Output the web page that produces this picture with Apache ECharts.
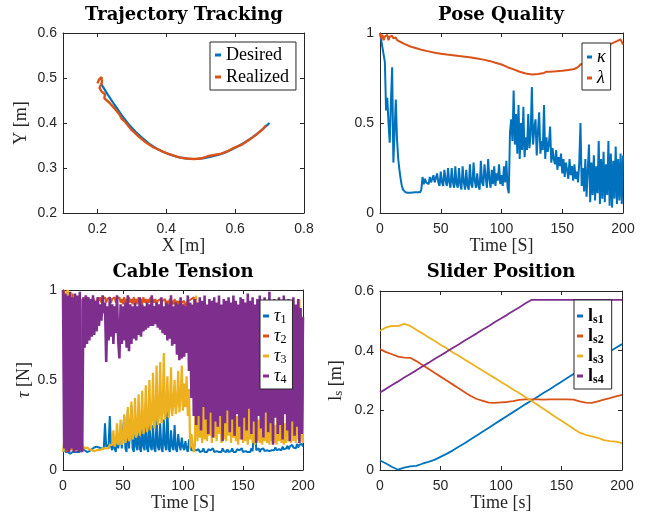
<!DOCTYPE html>
<html>
<head>
<meta charset="utf-8">
<title>Tracking results</title>
<script src="https://cdn.jsdelivr.net/npm/echarts@6.0.0/dist/echarts.min.js"></script>
<style>
  html, body { margin: 0; padding: 0; background: #fff; }
  #main { width: 646px; height: 517px; }
</style>
</head>
<body>
<div id="main"></div>
<script>
// ---------- data ----------
// trajectory tracking, x/y in metres
const desiredX = [0.21, 0.23, 0.25, 0.27, 0.29, 0.31, 0.33, 0.35, 0.37, 0.39, 0.41, 0.43, 0.45,
  0.47, 0.49, 0.51, 0.53, 0.55, 0.57, 0.59, 0.61, 0.63, 0.65, 0.67, 0.69, 0.70];
const desiredY = [0.488, 0.463, 0.440, 0.418, 0.398, 0.381, 0.367, 0.354, 0.344, 0.336, 0.330, 0.325, 0.322,
  0.320, 0.320, 0.322, 0.325, 0.329, 0.334, 0.341, 0.349, 0.358, 0.368, 0.380, 0.393, 0.400];
const realizedX = [0.200, 0.205, 0.212, 0.213, 0.206, 0.212, 0.222, 0.220, 0.235, 0.250, 0.265, 0.270, 0.280,
  0.300, 0.320, 0.340, 0.360, 0.380, 0.400, 0.420, 0.440, 0.460, 0.480, 0.500, 0.520, 0.540, 0.560,
  0.580, 0.600, 0.620, 0.640, 0.660, 0.680, 0.690];
const realizedY = [0.488, 0.497, 0.502, 0.490, 0.478, 0.470, 0.464, 0.455, 0.445, 0.432, 0.418, 0.410, 0.403,
  0.384, 0.370, 0.357, 0.347, 0.340, 0.333, 0.328, 0.323, 0.321, 0.320, 0.321, 0.326, 0.329, 0.332,
  0.338, 0.346, 0.352, 0.362, 0.373, 0.386, 0.395];

// pose quality, kappa sampled every second from 0 to 200 s
const kappa = [
  1.00, 0.96, 0.92, 0.88, 0.84, 0.57, 0.64, 0.50, 0.39, 0.62,
  0.81, 0.28, 0.45, 0.63, 0.41, 0.30, 0.24, 0.19, 0.15, 0.13,
  0.12, 0.115, 0.112, 0.112, 0.113, 0.113, 0.114, 0.114, 0.115, 0.115,
  0.115, 0.115, 0.116, 0.115, 0.13, 0.20, 0.16, 0.19, 0.17, 0.18,
  0.16, 0.20, 0.17, 0.16, 0.21, 0.17, 0.16, 0.22, 0.17, 0.15,
  0.23, 0.17, 0.15, 0.24, 0.18, 0.15, 0.25, 0.17, 0.14, 0.25,
  0.17, 0.14, 0.26, 0.16, 0.14, 0.25, 0.16, 0.13, 0.26, 0.17,
  0.13, 0.24, 0.15, 0.13, 0.27, 0.16, 0.14, 0.28, 0.18, 0.14,
  0.22, 0.15, 0.13, 0.29, 0.17, 0.15, 0.27, 0.20, 0.14, 0.30,
  0.19, 0.14, 0.24, 0.16, 0.26, 0.15, 0.22, 0.18, 0.27, 0.16,
  0.21, 0.15, 0.26, 0.17, 0.29, 0.14, 0.11, 0.45, 0.52, 0.40,
  0.68, 0.38, 0.55, 0.33, 0.60, 0.30, 0.50, 0.35, 0.59, 0.31,
  0.42, 0.35, 0.55, 0.36, 0.44, 0.70, 0.38, 0.47, 0.52, 0.32,
  0.45, 0.56, 0.33, 0.40, 0.35, 0.60, 0.30, 0.42, 0.34, 0.38,
  0.48, 0.28, 0.36, 0.30, 0.27, 0.35, 0.24, 0.31, 0.26, 0.33,
  0.22, 0.30, 0.20, 0.28, 0.24, 0.19, 0.30, 0.21, 0.26, 0.18,
  0.27, 0.19, 0.23, 0.17, 0.28, 0.50, 0.15, 0.25, 0.12, 0.30,
  0.09, 0.24, 0.38, 0.06, 0.28, 0.10, 0.32, 0.07, 0.26, 0.11,
  0.40, 0.05, 0.30, 0.08, 0.34, 0.06, 0.27, 0.10, 0.40, 0.04,
  0.33, 0.03, 0.29, 0.08, 0.37, 0.05, 0.30, 0.07, 0.33, 0.05,
  0.32
];
const lambdaTime = [0, 1, 2, 3, 4, 5, 6, 7, 8, 9, 10, 11, 12, 13, 14, 15, 17, 20, 25, 30, 35, 40, 45, 50,
  55, 60, 65, 70, 75, 80, 85, 90, 95, 100, 105, 110, 115, 120, 125, 130, 135, 137, 140, 145, 150, 155,
  160, 163, 165, 170, 175, 180, 185, 190, 195, 198, 200];
const lambdaVal = [1.0, 0.97, 0.99, 0.96, 0.98, 0.97, 0.99, 0.96, 0.98, 0.97, 0.985, 0.97, 0.96, 0.975,
  0.96, 0.955, 0.95, 0.94, 0.925, 0.915, 0.905, 0.898, 0.89, 0.885, 0.88, 0.876, 0.872, 0.868, 0.864,
  0.858, 0.852, 0.845, 0.835, 0.825, 0.81, 0.798, 0.785, 0.775, 0.77, 0.772, 0.778, 0.785, 0.785, 0.787,
  0.79, 0.795, 0.80, 0.81, 0.825, 0.84, 0.86, 0.885, 0.91, 0.94, 0.955, 0.965, 0.935];

// cable tensions, sampled every second from 0 to 200 s
const tau1 = [
  1.0, 0.95, 0.10, 0.09, 0.10, 0.10, 0.09, 0.10, 0.10, 0.10,
  0.10, 0.10, 0.10, 0.11, 0.10, 0.45, 0.12, 0.11, 0.11, 0.105,
  0.10, 0.10, 0.105, 0.11, 0.115, 0.12, 0.125, 0.13, 0.13, 0.13,
  0.125, 0.12, 0.12, 0.115, 0.12, 0.26, 0.13, 0.12, 0.14, 0.30,
  0.13, 0.11, 0.15, 0.12, 0.10, 0.20, 0.12, 0.11, 0.22, 0.12,
  0.11, 0.30, 0.12, 0.10, 0.33, 0.12, 0.11, 0.36, 0.12, 0.10,
  0.28, 0.13, 0.11, 0.30, 0.12, 0.10, 0.27, 0.13, 0.11, 0.32,
  0.12, 0.10, 0.29, 0.13, 0.11, 0.25, 0.12, 0.10, 0.30, 0.13,
  0.11, 0.26, 0.12, 0.10, 0.28, 0.14, 0.11, 0.36, 0.12, 0.10,
  0.22, 0.13, 0.11, 0.25, 0.12, 0.10, 0.20, 0.14, 0.11, 0.18,
  0.13, 0.11, 0.16, 0.12, 0.10, 0.17, 0.14, 0.11, 0.10, 0.11,
  0.10, 0.11, 0.10, 0.115, 0.10, 0.11, 0.105, 0.12, 0.10, 0.11,
  0.10, 0.115, 0.105, 0.11, 0.10, 0.12, 0.10, 0.11, 0.105, 0.115,
  0.10, 0.11, 0.10, 0.12, 0.105, 0.11, 0.10, 0.115, 0.10, 0.11,
  0.105, 0.12, 0.10, 0.11, 0.10, 0.115, 0.105, 0.11, 0.10, 0.12,
  0.10, 0.11, 0.105, 0.115, 0.10, 0.11, 0.10, 0.12, 0.105, 0.11,
  0.30, 0.11, 0.105, 0.12, 0.10, 0.115, 0.11, 0.12, 0.105, 0.115,
  0.11, 0.12, 0.105, 0.115, 0.11, 0.12, 0.11, 0.125, 0.11, 0.12,
  0.115, 0.125, 0.11, 0.13, 0.115, 0.125, 0.12, 0.135, 0.115, 0.13,
  0.12, 0.14, 0.125, 0.135, 0.12, 0.145, 0.125, 0.14, 0.13, 0.145,
  0.13
];
const tau2 = [
  0.98, 1.0, 0.12, 0.10, 0.95, 0.10, 0.15, 0.11, 0.98, 0.12,
  0.10, 0.12, 0.11, 0.13, 0.11, 0.10, 0.95, 0.93, 0.96, 0.94,
  0.95, 0.96, 0.94, 0.95, 0.93, 0.96, 0.94, 0.95, 0.93, 0.96,
  0.94, 0.96, 0.93, 0.95, 0.94, 0.96, 0.93, 0.95, 0.94, 0.96,
  0.93, 0.95, 0.94, 0.96, 0.93, 0.95, 0.94, 0.96, 0.93, 0.95,
  0.92, 0.96, 0.93, 0.95, 0.92, 0.96, 0.93, 0.95, 0.92, 0.96,
  0.93, 0.95, 0.92, 0.96, 0.93, 0.95, 0.92, 0.96, 0.93, 0.95,
  0.92, 0.95, 0.93, 0.96, 0.92, 0.95, 0.93, 0.95, 0.92, 0.94,
  0.93, 0.95, 0.92, 0.94, 0.93, 0.95, 0.91, 0.94, 0.92, 0.95,
  0.91, 0.94, 0.92, 0.95, 0.91, 0.94, 0.92, 0.94, 0.91, 0.93,
  0.92, 0.94, 0.85, 0.93, 0.92, 0.94, 0.93, 0.95, 0.94, 0.96,
  0.60, 0.57, 0.62, 0.58, 0.61, 0.56, 0.60, 0.63, 0.58, 0.61,
  0.57, 0.62, 0.59, 0.60, 0.56, 0.61, 0.58, 0.63, 0.57, 0.60,
  0.62, 0.58, 0.61, 0.57, 0.60, 0.63, 0.58, 0.61, 0.56, 0.60,
  0.59, 0.62, 0.57, 0.61, 0.58, 0.60, 0.63, 0.57, 0.61, 0.59,
  0.60, 0.56, 0.62, 0.58, 0.61, 0.57, 0.60, 0.63, 0.59, 0.61,
  0.58, 0.62, 0.57, 0.60, 0.61, 0.56, 0.60, 0.62, 0.58, 0.61,
  0.57, 0.60, 0.63, 0.58, 0.61, 0.59, 0.60, 0.57, 0.62, 0.58,
  0.61, 0.57, 0.60, 0.62, 0.58, 0.61, 0.56, 0.60, 0.63, 0.59,
  0.60, 0.58, 0.62, 0.57, 0.61, 0.59, 0.60, 0.62, 0.58, 0.61,
  0.60
];
const tau3 = [
  0.10, 0.11, 0.20, 0.98, 1.00, 0.97, 0.12, 0.25, 0.11, 0.13,
  0.12, 0.11, 0.20, 0.12, 0.13, 0.16, 0.14, 0.13, 0.12, 0.12,
  0.125, 0.12, 0.115, 0.11, 0.11, 0.105, 0.105, 0.105, 0.11, 0.11,
  0.11, 0.11, 0.115, 0.115, 0.12, 0.12, 0.12, 0.13, 0.12, 0.14,
  0.13, 0.14, 0.22, 0.13, 0.15, 0.26, 0.14, 0.16, 0.28, 0.14,
  0.17, 0.31, 0.15, 0.18, 0.35, 0.16, 0.19, 0.38, 0.17, 0.20,
  0.40, 0.18, 0.21, 0.42, 0.19, 0.23, 0.44, 0.20, 0.24, 0.47,
  0.21, 0.25, 0.50, 0.22, 0.27, 0.54, 0.23, 0.28, 0.58, 0.25,
  0.30, 0.60, 0.26, 0.32, 0.65, 0.28, 0.33, 0.52, 0.29, 0.35,
  0.57, 0.30, 0.36, 0.50, 0.31, 0.38, 0.55, 0.32, 0.40, 0.58,
  0.33, 0.48, 0.35, 0.52, 0.30, 0.45, 0.12, 0.20, 0.15, 0.10,
  0.14, 0.97, 0.16, 0.42, 0.18, 0.38, 0.15, 0.55, 0.17, 0.40,
  0.16, 0.36, 0.19, 0.44, 0.15, 0.34, 0.18, 0.41, 0.16, 0.37,
  0.20, 0.43, 0.15, 0.33, 0.17, 0.46, 0.16, 0.35, 0.19, 0.40,
  0.15, 0.32, 0.18, 0.38, 0.16, 0.30, 0.14, 0.42, 0.17, 0.33,
  0.15, 0.36, 0.16, 0.29, 0.14, 0.35, 0.17, 0.31, 0.15, 0.55,
  0.14, 0.30, 0.16, 0.28, 0.15, 0.45, 0.14, 0.27, 0.16, 0.33,
  0.15, 0.26, 0.14, 0.60, 0.16, 0.30, 0.15, 0.25, 0.14, 0.35,
  0.16, 0.28, 0.15, 0.40, 0.14, 0.26, 0.15, 0.50, 0.16, 0.88,
  0.15, 0.92, 0.16, 0.70, 0.15, 0.85, 0.17, 0.95, 0.16, 0.80,
  0.15
];
const tau4 = [
  1.0, 0.12, 0.98, 0.11, 0.97, 0.10, 0.99, 0.12, 0.96, 0.10,
  0.98, 0.11, 0.97, 0.10, 0.99, 0.12, 0.10, 0.96, 0.68, 0.97,
  0.70, 0.96, 0.72, 0.95, 0.74, 0.97, 0.75, 0.94, 0.77, 0.96,
  0.80, 0.92, 0.83, 0.97, 0.87, 0.93, 0.60, 0.91, 0.72, 0.96,
  0.74, 0.92, 0.70, 0.91, 0.76, 0.97, 0.72, 0.62, 0.92, 0.70,
  0.91, 0.72, 0.93, 0.68, 0.97, 0.66, 0.92, 0.70, 0.91, 0.73,
  0.93, 0.72, 0.91, 0.75, 0.96, 0.74, 0.92, 0.77, 0.91, 0.78,
  0.93, 0.79, 0.92, 0.80, 0.97, 0.80, 0.91, 0.81, 0.93, 0.79,
  0.92, 0.78, 0.96, 0.76, 0.91, 0.75, 0.93, 0.72, 0.92, 0.73,
  0.97, 0.69, 0.91, 0.70, 0.93, 0.64, 0.92, 0.61, 0.96, 0.62,
  0.92, 0.63, 0.91, 0.65, 0.97, 0.55, 0.93, 0.40, 0.92, 0.30,
  0.95, 0.25, 0.93, 0.30, 0.96, 0.22, 0.94, 0.35, 0.97, 0.28,
  0.92, 0.20, 0.95, 0.32, 0.94, 0.18, 0.96, 0.27, 0.93, 0.24,
  0.97, 0.30, 0.92, 0.16, 0.95, 0.26, 0.94, 0.33, 0.96, 0.21,
  0.93, 0.28, 0.97, 0.19, 0.94, 0.31, 0.92, 0.24, 0.96, 0.17,
  0.95, 0.29, 0.93, 0.22, 0.98, 0.34, 0.94, 0.20, 0.96, 0.27,
  0.92, 0.15, 0.95, 0.30, 0.97, 0.23, 0.93, 0.18, 0.96, 0.32,
  0.94, 0.21, 0.99, 0.26, 0.92, 0.14, 0.95, 0.29, 0.93, 0.20,
  0.96, 0.25, 0.94, 0.17, 0.97, 0.31, 0.92, 0.22, 0.95, 0.16,
  0.93, 0.27, 0.96, 0.19, 0.92, 0.24, 0.95, 0.15, 0.90, 0.20,
  0.85
];

// slider positions, every 5 s from 0 to 200 s
const ls1 = [0.032, 0.022, 0.010, 0.001, 0.008, 0.012, 0.014, 0.021, 0.027, 0.034, 0.044, 0.054, 0.065,
  0.078, 0.090, 0.103, 0.116, 0.129, 0.142, 0.155, 0.168, 0.181, 0.194, 0.207, 0.220, 0.232, 0.245,
  0.258, 0.270, 0.283, 0.296, 0.309, 0.322, 0.335, 0.347, 0.360, 0.372, 0.385, 0.397, 0.410, 0.422];
const ls2 = [0.405, 0.395, 0.388, 0.380, 0.377, 0.376, 0.365, 0.352, 0.339, 0.326, 0.313, 0.300, 0.287,
  0.274, 0.261, 0.248, 0.238, 0.232, 0.226, 0.225, 0.227, 0.228, 0.231, 0.235, 0.237, 0.237, 0.237,
  0.236, 0.237, 0.237, 0.237, 0.237, 0.236, 0.230, 0.226, 0.225, 0.230, 0.236, 0.241, 0.247, 0.252];
const ls3 = [0.467, 0.478, 0.483, 0.482, 0.490, 0.483, 0.470, 0.458, 0.445, 0.433, 0.420, 0.408, 0.395,
  0.383, 0.370, 0.358, 0.345, 0.333, 0.320, 0.308, 0.295, 0.283, 0.270, 0.258, 0.245, 0.232, 0.219,
  0.205, 0.192, 0.178, 0.165, 0.152, 0.138, 0.125, 0.118, 0.113, 0.108, 0.100, 0.097, 0.095, 0.090];
const ls4 = [0.260, 0.272, 0.285, 0.297, 0.310, 0.322, 0.334, 0.347, 0.359, 0.372, 0.384, 0.396, 0.409,
  0.421, 0.434, 0.446, 0.458, 0.471, 0.483, 0.496, 0.508, 0.520, 0.533, 0.545, 0.558, 0.570, 0.570,
  0.570, 0.570, 0.570, 0.570, 0.570, 0.570, 0.570, 0.570, 0.570, 0.570, 0.570, 0.570, 0.570, 0.570];

// ---------- helpers ----------
const AX = '#262626';
const C = ['#0072BD', '#D95319', '#EDB120', '#7E2F8E'];
const SERIF = 'Liberation Serif';

function timeGrid(step, count) {
  const t = [];
  for (let i = 0; i < count; i++) t.push(i * step);
  return t;
}
const tSec = timeGrid(1, 201);
const tSlider = timeGrid(5, 41);

function axisPair(dim, grid, min, max, interval, name, nameGap, ticks) {
  const axes = [];
  for (let k = 0; k < 2; k++) {
    const main = k === 0;
    const ax = {
      type: 'value', gridIndex: grid, min: min, max: max, interval: interval,
      position: dim === 'x' ? (main ? 'bottom' : 'top') : (main ? 'left' : 'right'),
      axisLine: { show: true, onZero: false, lineStyle: { color: AX, width: 1 } },
      axisTick: { show: true, inside: true, length: 4, lineStyle: { color: AX, width: 1 } },
      axisLabel: {
        show: main, color: AX, fontSize: 14, fontFamily: 'Liberation Sans',
        margin: dim === 'x' ? 9 : 6
      },
      splitLine: { show: false }
    };
    if (ticks) {
      ax.axisTick.customValues = ticks;
      ax.axisLabel.customValues = ticks;
    }
    if (main && name) {
      ax.name = name;
      ax.nameLocation = 'middle';
      ax.nameGap = nameGap;
      ax.nameTextStyle = {
        fontFamily: SERIF, fontSize: 18, color: AX,
        rich: {
          i: { fontFamily: SERIF, fontSize: 18, fontStyle: 'italic', color: AX },
          n: { fontFamily: SERIF, fontSize: 18, color: AX },
          s: { fontFamily: SERIF, fontSize: 13, color: AX, verticalAlign: 'bottom', lineHeight: 10 }
        }
      };
    }
    axes.push(ax);
  }
  return axes;
}

function line(name, xs, ys, color, grid, width) {
  return {
    name: name, type: 'line', xAxisIndex: grid * 2, yAxisIndex: grid * 2,
    data: xs.map((x, i) => [x, ys[i]]),
    showSymbol: false, symbol: 'none', clip: true,
    lineStyle: { color: color, width: width },
    itemStyle: { color: color },
    animation: false
  };
}

const legendText = {
  Desired: 'Desired', Realized: 'Realized',
  kappa: '{i|κ}', lambda: '{i|λ}',
  tau1: '{i|τ}{s|1}', tau2: '{i|τ}{s|2}', tau3: '{i|τ}{s|3}', tau4: '{i|τ}{s|4}',
  ls1: '{b|l}{bs|s1}', ls2: '{b|l}{bs|s2}', ls3: '{b|l}{bs|s3}', ls4: '{b|l}{bs|s4}'
};

function legend(names, left, top, padding, itemGap, iconW, textGap) {
  return {
    data: names, orient: 'vertical', left: left, top: top,
    padding: padding, itemGap: itemGap, itemWidth: iconW, itemHeight: 3, itemTextGap: textGap,
    icon: 'rect', selectedMode: false,
    backgroundColor: '#fff', borderColor: AX, borderWidth: 1,
    formatter: n => legendText[n],
    textStyle: {
      fontFamily: SERIF, fontSize: 18, color: '#000', lineHeight: 20,
      rich: {
        i: { fontFamily: SERIF, fontSize: 18, fontStyle: 'italic', color: '#000', lineHeight: 20 },
        s: { fontFamily: SERIF, fontSize: 12, color: '#000', lineHeight: 10, verticalAlign: 'bottom' },
        b: { fontFamily: SERIF, fontSize: 18, fontWeight: 'bold', color: '#000', lineHeight: 20 },
        bs: { fontFamily: SERIF, fontSize: 12, fontWeight: 'bold', color: '#000', lineHeight: 10, verticalAlign: 'bottom' }
      }
    }
  };
}

function title(text, x, y) {
  return {
    text: text, left: x, top: y, textAlign: 'center', padding: 0,
    textStyle: { fontFamily: 'DejaVu Serif', fontWeight: 'bold', fontSize: 18, color: '#000' }
  };
}

// ---------- option ----------
const option = {
  backgroundColor: '#fff',
  animation: false,
  title: [
    title('Trajectory Tracking', 184, 6),
    title('Pose Quality', 501, 6),
    title('Cable Tension', 183, 263),
    title('Slider Position', 501, 263)
  ],
  grid: [
    { left: 63, top: 33, width: 241, height: 180, containLabel: false, outerBoundsMode: 'none' },
    { left: 380, top: 33, width: 243, height: 180, containLabel: false, outerBoundsMode: 'none' },
    { left: 63, top: 290, width: 240, height: 180, containLabel: false, outerBoundsMode: 'none' },
    { left: 380, top: 291, width: 242, height: 179, containLabel: false, outerBoundsMode: 'none' }
  ],
  xAxis: [].concat(
    axisPair('x', 0, 0.1, 0.8, 0.1, 'X [m]', 22, [0.2, 0.4, 0.6, 0.8]),
    axisPair('x', 1, 0, 200, 50, 'Time [S]', 22),
    axisPair('x', 2, 0, 200, 50, 'Time [S]', 22),
    axisPair('x', 3, 0, 200, 50, 'Time [s]', 22)
  ),
  yAxis: [].concat(
    axisPair('y', 0, 0.2, 0.6, 0.1, 'Y [m]', 33),
    axisPair('y', 1, 0, 1, 0.5, null, 0),
    axisPair('y', 2, 0, 1, 0.5, '{i|τ} [N]', 30),
    axisPair('y', 3, 0, 0.6, 0.2, '{n|l}{s|s}{n| [m]}', 35)
  ),
  legend: [
    legend(['Desired', 'Realized'], 210, 42, [3, 7, 3, 5], 2, 6, 3),
    legend(['kappa', 'lambda'], 582, 43, [4, 5, 2, 5], 1, 5, 5),
    legend(['tau1', 'tau2', 'tau3', 'tau4'], 260, 300, [6, 6, 3, 3], 0, 6, 3),
    legend(['ls1', 'ls2', 'ls3', 'ls4'], 574, 300, [6, 8, 3, 3], 0, 6, 3)
  ],
  series: [
    line('Desired', desiredX, desiredY, C[0], 0, 2.2),
    line('Realized', realizedX, realizedY, C[1], 0, 2.4),
    line('kappa', tSec, kappa, C[0], 1, 2),
    line('lambda', lambdaTime, lambdaVal, C[1], 1, 2),
    line('tau1', tSec, tau1, C[0], 2, 2),
    line('tau2', tSec, tau2, C[1], 2, 2),
    line('tau3', tSec, tau3, C[2], 2, 2.2),
    line('tau4', tSec, tau4, C[3], 2, 2.6),
    line('ls1', tSlider, ls1, C[0], 3, 1.8),
    line('ls2', tSlider, ls2, C[1], 3, 1.8),
    line('ls3', tSlider, ls3, C[2], 3, 1.8),
    line('ls4', tSlider, ls4, C[3], 3, 1.8)
  ]
};

const chart = echarts.init(document.getElementById('main'), null, { renderer: 'canvas' });
chart.setOption(option);
</script>
</body>
</html>
